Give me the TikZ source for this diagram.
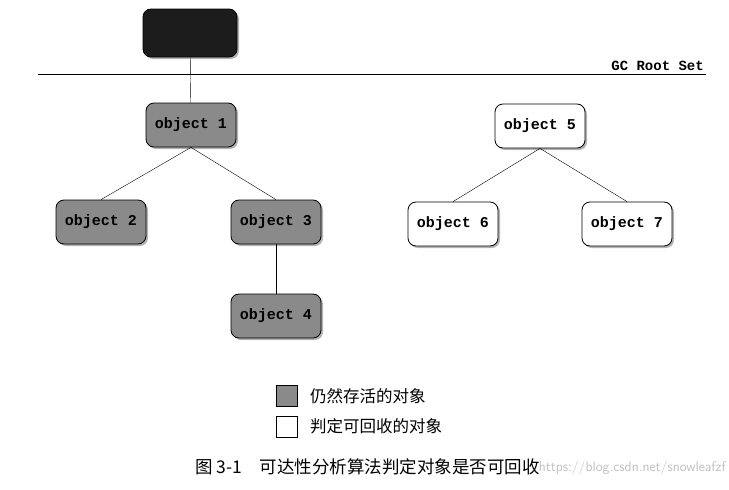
\documentclass[tikz,border=0pt]{standalone}
\usepackage{fontspec}
\setmonofont{Liberation Mono}
\newfontfamily\cjk{Noto Sans CJK SC}
\usetikzlibrary{shadows, positioning}
\definecolor{livegray}{HTML}{8A8A8A}
\definecolor{rootblack}{HTML}{1C1C1C}

\begin{document}
\begin{tikzpicture}[
  x=1pt, y=-1pt,
  obj/.style={rectangle, draw=black, thick, rounded corners=8pt,
              minimum width=90pt, minimum height=44pt,
              font=\fontsize{15}{17}\selectfont\ttfamily\bfseries,
              drop shadow={shadow xshift=2pt, shadow yshift=-2pt, opacity=0.6}},
  live/.style={obj, fill=livegray},
  dead/.style={obj, fill=white},
  rootbox/.style={obj, fill=rootblack, minimum width=94pt, minimum height=48pt},
  link/.style={thin, color=black},
  legendbox/.style={rectangle, draw=black, minimum size=21pt, inner sep=0pt},
  legendtext/.style={font=\cjk\fontsize{16.5}{18}\selectfont, anchor=west},
]
  \useasboundingbox (0,0) rectangle (729,490);

  % root set
  \node[rootbox] (root) at (190,33) {};
  \coordinate (lineL) at (38,74);
  \coordinate (lineR) at (706,74);
  \draw[thick] (lineL) -- (lineR);
  \node[anchor=south east, inner sep=1pt,
        font=\fontsize{14}{16}\selectfont\ttfamily\bfseries] (gcset) at (705,72) {GC Root Set};

  % reachable objects
  \node[live] (o1) at (191,125) {object 1};
  \node[live] (o2) at (101,222) {object 2};
  \node[live] (o3) at (276,222) {object 3};
  \node[live] (o4) at (276,316) {object 4};

  % unreachable objects
  \node[dead] (o5) at (540,126) {object 5};
  \node[dead] (o6) at (453,224) {object 6};
  \node[dead] (o7) at (627,224) {object 7};

  \draw[link] (root) -- (o1);
  \draw[link] (o1.south) -- (o2.north);
  \draw[link] (o1.south) -- (o3.north);
  \draw[link] (o3) -- (o4);
  \draw[link] (o5.south) -- (o6.north);
  \draw[link] (o5.south) -- (o7.north);

  % legend
  \node[legendbox, fill=livegray] (keylive) at (287,396) {};
  \node[legendbox, fill=white, below=9pt of keylive] (keydead) {};
  \node[legendtext, right=9pt of keylive] (txtlive) {仍然存活的对象};
  \node[legendtext, right=9pt of keydead] (txtdead) {判定可回收的对象};

  % caption
  \node[anchor=west, font=\cjk\fontsize{17.5}{19}\selectfont] (caption) at (192,467) {图 3-1\quad 可达性分析算法判定对象是否可回收};
  \node[anchor=east, inner sep=1pt, text=black!25, font=\sffamily\fontsize{14}{16}\selectfont] (mark) at (727,468) {https://blog.csdn.net/snowleafzf};
\end{tikzpicture}
\end{document}
